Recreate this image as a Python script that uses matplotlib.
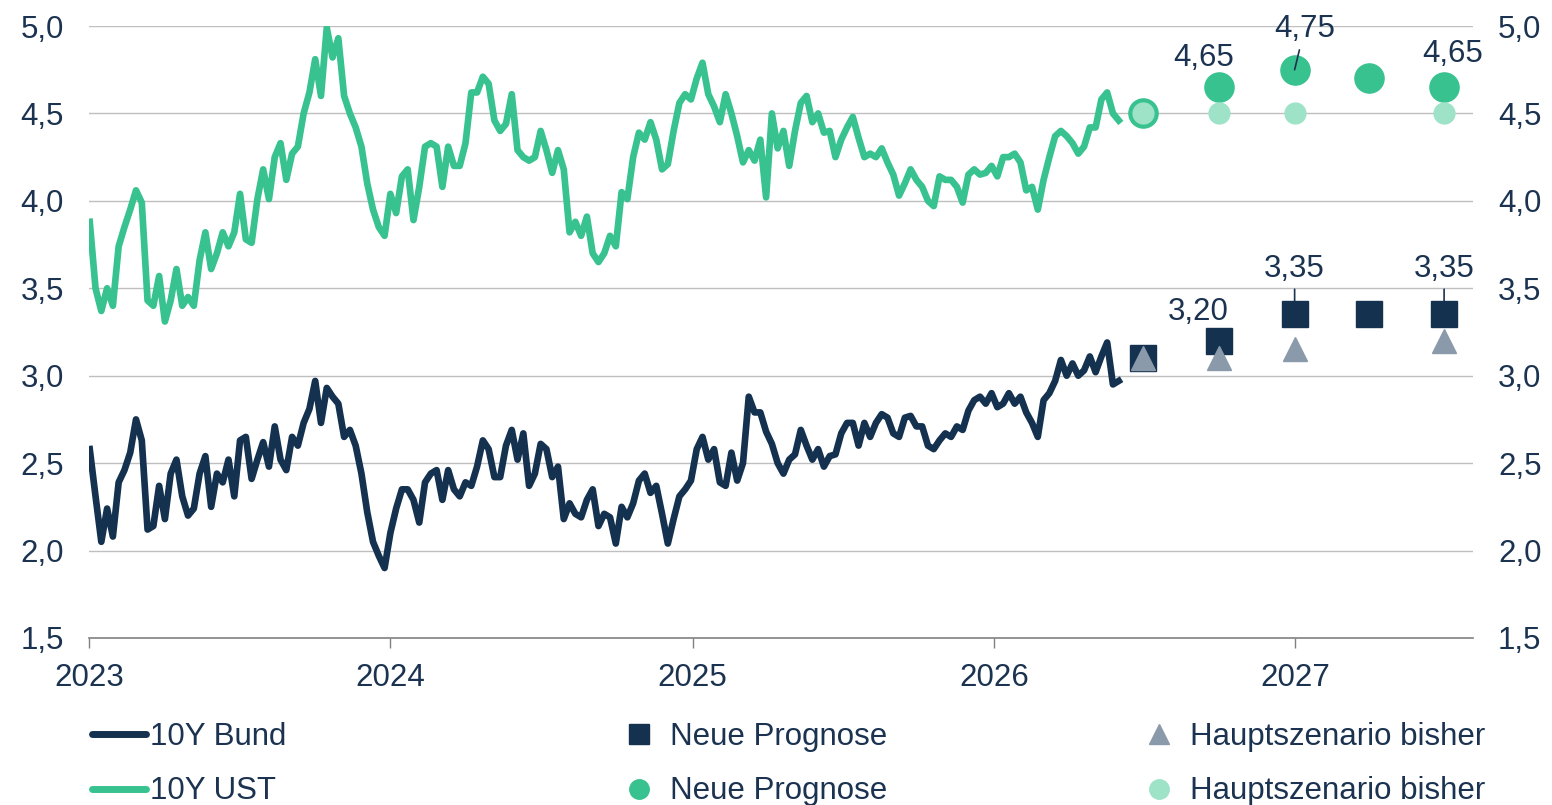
import numpy as np
import pandas as pd
import matplotlib
matplotlib.use("Agg")
import matplotlib.pyplot as plt
from matplotlib.lines import Line2D

# ---------------- DATA ----------------
# weekly readings, first week 2023-01-02
start_week = "2023-01-02"

ust_10y = [
    3.88, 3.50, 3.37, 3.50, 3.40, 3.74, 3.85, 3.95, 4.06, 3.99,
    3.43, 3.40, 3.57, 3.31, 3.43, 3.61, 3.40, 3.45, 3.40, 3.66,
    3.82, 3.61, 3.70, 3.82, 3.74, 3.82, 4.04, 3.78, 3.76, 4.01,
    4.18, 4.01, 4.25, 4.33, 4.12, 4.27, 4.31, 4.50, 4.62, 4.81,
    4.60, 4.99, 4.82, 4.93, 4.60, 4.50, 4.42, 4.31, 4.10, 3.95,
    3.85, 3.80, 4.04, 3.93, 4.14, 4.18, 3.89, 4.08, 4.31, 4.33,
    4.31, 4.08, 4.31, 4.20, 4.20, 4.33, 4.62, 4.62, 4.71, 4.67,
    4.46, 4.40, 4.44, 4.61, 4.29, 4.25, 4.23, 4.25, 4.40, 4.29,
    4.16, 4.29, 4.18, 3.82, 3.88, 3.80, 3.91, 3.70, 3.65, 3.70,
    3.80, 3.74, 4.05, 4.01, 4.25, 4.39, 4.35, 4.45, 4.35, 4.18,
    4.21, 4.40, 4.56, 4.61, 4.58, 4.70, 4.79, 4.61, 4.54, 4.45,
    4.61, 4.50, 4.37, 4.22, 4.29, 4.23, 4.35, 4.02, 4.50, 4.30,
    4.40, 4.20, 4.40, 4.56, 4.60, 4.45, 4.50, 4.39, 4.40, 4.25,
    4.35, 4.42, 4.48, 4.36, 4.25, 4.27, 4.25, 4.30, 4.22, 4.15,
    4.03, 4.10, 4.18, 4.12, 4.08, 4.00, 3.97, 4.14, 4.12, 4.12,
    4.08, 3.99, 4.15, 4.18, 4.15, 4.16, 4.20, 4.14, 4.25, 4.25,
    4.27, 4.22, 4.06, 4.08, 3.95, 4.12, 4.25, 4.37, 4.40, 4.37,
    4.33, 4.27, 4.31, 4.42, 4.42, 4.58, 4.62, 4.50, 4.46,
]

bund_10y = [
    2.58, 2.31, 2.05, 2.24, 2.08, 2.39, 2.46, 2.56, 2.75, 2.63,
    2.12, 2.14, 2.37, 2.18, 2.44, 2.52, 2.31, 2.20, 2.24, 2.44,
    2.54, 2.25, 2.44, 2.39, 2.52, 2.31, 2.63, 2.65, 2.41, 2.52,
    2.62, 2.48, 2.71, 2.52, 2.46, 2.65, 2.60, 2.73, 2.81, 2.97,
    2.73, 2.93, 2.88, 2.84, 2.65, 2.69, 2.60, 2.44, 2.22, 2.05,
    1.97, 1.90, 2.10, 2.24, 2.35, 2.35, 2.29, 2.16, 2.39, 2.44,
    2.46, 2.29, 2.46, 2.35, 2.31, 2.39, 2.37, 2.48, 2.63, 2.58,
    2.42, 2.42, 2.60, 2.69, 2.52, 2.67, 2.37, 2.44, 2.61, 2.58,
    2.42, 2.48, 2.18, 2.27, 2.21, 2.19, 2.29, 2.35, 2.14, 2.21,
    2.19, 2.04, 2.25, 2.19, 2.27, 2.40, 2.44, 2.33, 2.37, 2.21,
    2.04, 2.18, 2.31, 2.35, 2.40, 2.58, 2.65, 2.52, 2.58, 2.39,
    2.37, 2.56, 2.40, 2.50, 2.88, 2.79, 2.79, 2.68, 2.61, 2.50,
    2.44, 2.52, 2.55, 2.69, 2.60, 2.52, 2.58, 2.48, 2.54, 2.55,
    2.67, 2.73, 2.73, 2.60, 2.73, 2.65, 2.73, 2.78, 2.76, 2.67,
    2.65, 2.76, 2.77, 2.71, 2.71, 2.60, 2.58, 2.63, 2.67, 2.65,
    2.71, 2.69, 2.80, 2.86, 2.88, 2.84, 2.90, 2.82, 2.84, 2.90,
    2.84, 2.88, 2.79, 2.73, 2.65, 2.86, 2.90, 2.97, 3.09, 3.00,
    3.07, 3.00, 3.03, 3.11, 3.02, 3.11, 3.19, 2.95, 2.97,
]

fc_dates = ["2026-06-30", "2026-09-30", "2026-12-31", "2027-03-31", "2027-06-30"]
bund_neu = [3.10, 3.20, 3.35, 3.35, 3.35]
bund_alt = [3.10, 3.10, 3.15, np.nan, 3.20]
ust_neu = [4.50, 4.65, 4.75, 4.70, 4.65]
ust_alt = [4.50, 4.50, 4.50, np.nan, 4.50]

# labelled forecasts: (index, offset in points, leader line)
bund_labels = [(1, (-15, 21), False), (2, (0, 33), True), (4, (0, 33), True)]
ust_labels = [(1, (-11, 21), False), (2, (7, 29), True), (4, (6, 24), False)]

# ---------------- STYLE ----------------
NAVY = "#14324f"
GREEN = "#38c28f"
LIGHT_GREEN = "#9ee3c8"
TRI_GRAY = "#8a9aab"
TEXT = "#1b3350"
GRID = "#bfbfbf"
FS = 22.5

plt.rcParams["font.family"] = ["Liberation Sans", "DejaVu Sans"]

dates = pd.date_range(start_week, periods=len(ust_10y), freq="7D")
fc = pd.to_datetime(fc_dates)

fig = plt.figure(figsize=(15.52, 8.05), dpi=100)
ax = fig.add_axes([0.0573, 0.2075, 0.8918, 0.7602])

ax.plot(dates, bund_10y, color=NAVY, lw=4.8, solid_joinstyle="round", zorder=3)
ax.plot(dates, ust_10y, color=GREEN, lw=4.8, solid_joinstyle="round", zorder=3)

ax.plot(fc, bund_neu, ls="none", marker="s", ms=19, color=NAVY, zorder=4)
ax.plot(fc, bund_alt, ls="none", marker="^", ms=17, color=TRI_GRAY, zorder=5)
ax.plot(fc, ust_neu, ls="none", marker="o", ms=21, color=GREEN, zorder=4)
ax.plot(fc, ust_alt, ls="none", marker="o", ms=15, color=LIGHT_GREEN, zorder=5)


def fmt(v):
    return f"{v:.2f}".replace(".", ",")


for vals, labels in [(bund_neu, bund_labels), (ust_neu, ust_labels)]:
    for i, off, line in labels:
        ax.annotate(fmt(vals[i]), xy=(fc[i], vals[i]), xytext=off,
                    textcoords="offset points", ha="center", va="center",
                    fontsize=FS, color=TEXT, zorder=6 if off[0] > 0 else 3.5,
                    arrowprops=dict(arrowstyle="-", color=TEXT, lw=1.2,
                                    shrinkA=2, shrinkB=0) if line else None)

# ---------------- AXES ----------------
ax.set_xlim(pd.Timestamp("2023-01-01"), pd.Timestamp("2027-08-04"))
ax.set_ylim(1.5, 5.0)
yt = np.arange(1.5, 5.01, 0.5)
ax.set_yticks(yt)
ax.set_yticklabels([f"{v:.1f}".replace(".", ",") for v in yt])
years = pd.to_datetime(["2023-01-01", "2024-01-01", "2025-01-01", "2026-01-01", "2027-01-01"])
ax.set_xticks(years)
ax.set_xticklabels([str(d.year) for d in years])

for v in yt[1:]:
    ax.axhline(v, color=GRID, lw=1, zorder=1)

for s in ["top", "left", "right"]:
    ax.spines[s].set_visible(False)
ax.spines["bottom"].set_color("#808080")
ax.spines["bottom"].set_linewidth(1.2)

ax.tick_params(axis="y", length=0, pad=18, labelsize=FS, labelcolor=TEXT,
               labelleft=True, labelright=True)
ax.tick_params(axis="x", length=7, width=1, color="#808080", pad=11,
               labelsize=FS, labelcolor=TEXT)

# ---------------- LEGEND ----------------
cols = [
    ([Line2D([], [], color=NAVY, lw=5, solid_capstyle="round"),
      Line2D([], [], color=GREEN, lw=5, solid_capstyle="round")],
     ["10Y Bund", "10Y UST"], 0.059),
    ([Line2D([], [], ls="none", marker="s", ms=14, color=NAVY),
      Line2D([], [], ls="none", marker="o", ms=14, color=GREEN)],
     ["Neue Prognose", "Neue Prognose"], 0.394),
    ([Line2D([], [], ls="none", marker="^", ms=14, color=TRI_GRAY),
      Line2D([], [], ls="none", marker="o", ms=14, color=LIGHT_GREEN)],
     ["Hauptszenario bisher", "Hauptszenario bisher"], 0.729),
]
for handles, labels, x0 in cols:
    leg = fig.legend(handles, labels, loc="upper left", bbox_to_anchor=(x0, 0.103),
                     frameon=False, fontsize=FS, handlelength=1.75,
                     handletextpad=0.12, labelspacing=0.78, borderpad=0,
                     borderaxespad=0)
    for t in leg.get_texts():
        t.set_color(TEXT)

fig.savefig("out.png", dpi=100)
